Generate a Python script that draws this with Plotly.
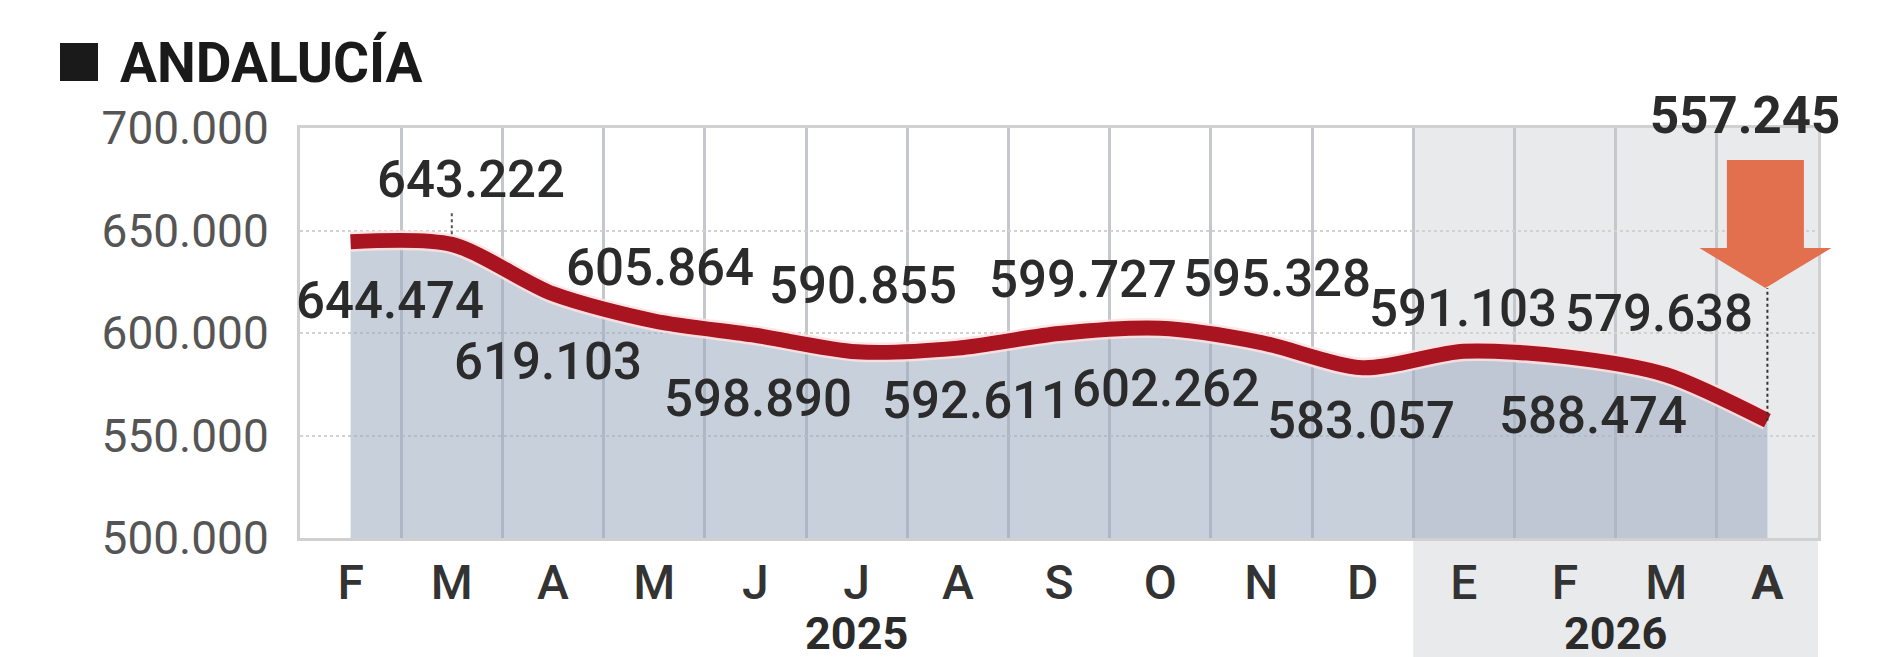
import plotly.graph_objects as go

# ---------------- data ----------------
months = ["F", "M", "A", "M", "J", "J", "A", "S", "O", "N", "D", "E", "F", "M", "A"]
years = ["2025"] * 11 + ["2026"] * 4
values = [644474, 643222, 619103, 605864, 598890, 590855, 592611, 599727,
          602262, 595328, 583057, 591103, 588474, 579638, 557245]
labels = ["644.474", "643.222", "619.103", "605.864", "598.890", "590.855", "592.611",
          "599.727", "602.262", "595.328", "583.057", "591.103", "588.474", "579.638",
          "557.245"]
y_ticks = [500000, 550000, 600000, 650000, 700000]
title = "ANDALUCÍA"

# ---------------- geometry / style ----------------
W, H = 1891, 657
ML, MR, MT, MB = 292, 81, 120, 127
PW, PH = W - ML - MR, H - MT - MB
YMIN, YMAX = 500000, 700000
XMIN, XMAX = -0.5, len(months) - 0.5


def px_x(px):
    return (px - ML) / PW


def px_y(py):
    return (H - MB - py) / PH


def x_px(xv):
    return ML + (xv - XMIN) / (XMAX - XMIN) * PW


# label offsets in pixels (dx right, dy down) relative to each point
label_dx = [39, 19, -5, 6, 3, 6, 18, 24, 6, 16, -2, -1, 28, -7]
label_dy = [59, -65, 68, -53, 63, -66, 52, -54, 60, -64, 53, -43, 59, -61]

FONT = "Roboto"
RED = "#a8141f"
ORANGE = "#e2704f"
idx = list(range(len(months)))

fig = go.Figure()

# area fill
fig.add_trace(go.Scatter(
    x=idx, y=values, mode="lines",
    line=dict(width=0, shape="spline", smoothing=0.8, color="rgba(0,0,0,0)"),
    fill="tozeroy", fillcolor="rgba(155,170,192,0.55)",
    hoverinfo="skip", showlegend=False))
# halo
fig.add_trace(go.Scatter(
    x=idx, y=values, mode="lines",
    line=dict(width=20, shape="spline", smoothing=0.8, color="rgba(255,225,225,0.85)"),
    hoverinfo="skip", showlegend=False))
# main line
fig.add_trace(go.Scatter(
    x=idx, y=values, mode="lines",
    line=dict(width=15, shape="spline", smoothing=0.8, color=RED),
    showlegend=False))

shapes = []
# 2026 shaded band (from start of 2026 to end, down to the bottom of the image)
first26 = years.index("2026")
shapes.append(dict(type="rect", xref="x", yref="paper",
                   x0=first26 - 0.5, x1=XMAX, y0=px_y(H), y1=1,
                   fillcolor="#e8eaec", line=dict(width=0), layer="below"))

# leader dotted line at second point
shapes.append(dict(type="line", xref="x", yref="y", x0=1, x1=1,
                   y0=values[1] + 5000, y1=values[1] + 16000,
                   line=dict(color="#555", width=2, dash="dot")))

# arrow over last point
last = len(values) - 1
cx = x_px(last) - 2
shaft_hw, head_hw = 38.5, 66
top_y, base_y, tip_y = 152, 240, 280
pts = [(cx - shaft_hw, top_y), (cx + shaft_hw, top_y), (cx + shaft_hw, base_y),
       (cx + head_hw, base_y), (cx, tip_y), (cx - head_hw, base_y),
       (cx - shaft_hw, base_y)]
path = "M " + " L ".join(f"{px_x(a):.5f},{px_y(b):.5f}" for a, b in pts) + " Z"
shapes.append(dict(type="path", xref="paper", yref="paper", path=path,
                   fillcolor=ORANGE, line=dict(width=0), layer="above"))
# dotted line from arrow tip to last point
tip_val = YMIN + (H - MB - tip_y) / PH * (YMAX - YMIN)
shapes.append(dict(type="line", xref="x", yref="y", x0=last, x1=last,
                   y0=values[last], y1=tip_val,
                   line=dict(color="#333", width=2, dash="dot")))

# title square
shapes.append(dict(type="rect", xref="paper", yref="paper",
                   x0=px_x(52), x1=px_x(90), y0=px_y(73), y1=px_y(35),
                   fillcolor="#1a1a1a", line=dict(width=0)))

annotations = []
for i in range(len(values) - 1):
    annotations.append(dict(x=i, y=values[i], xref="x", yref="y", text=labels[i],
                            showarrow=False, xshift=label_dx[i], yshift=-label_dy[i],
                            xanchor="center", yanchor="middle",
                            font=dict(family=FONT, size=51, color="#2b2b2b", weight=500)))
# last value, bold, above arrow
annotations.append(dict(x=last, y=px_y(108), xref="x", yref="paper", text=f"<b>{labels[last]}</b>",
                        showarrow=False, xshift=-22, xanchor="center", yanchor="middle",
                        font=dict(family=FONT, size=51, color="#2b2b2b")))
# year labels
for yr in ["2025", "2026"]:
    ii = [k for k, y in enumerate(years) if y == yr]
    center = (ii[0] - 0.5 + ii[-1] + 0.5) / 2
    annotations.append(dict(x=center, y=px_y(625), xref="x", yref="paper",
                            xanchor="center", yanchor="middle",
                            text=f"<b>{yr}</b>", showarrow=False,
                            font=dict(family=FONT, size=45, color="#2b2b2b")))
# title
annotations.append(dict(x=px_x(110), y=px_y(55), xref="paper", yref="paper",
                        xanchor="left", yanchor="middle", text=f"<b>{title}</b>",
                        showarrow=False, font=dict(family=FONT, size=55, color="#1a1a1a")))

ticktext = months[:-1] + [f"<b>{months[-1]}</b>"]

fig.update_layout(
    width=W, height=H, autosize=False,
    margin=dict(l=ML, r=MR, t=MT, b=MB, pad=0),
    paper_bgcolor="white", plot_bgcolor="rgba(0,0,0,0)",
    separators=",.",
    shapes=shapes, annotations=annotations,
    xaxis=dict(range=[XMIN, XMAX], tickmode="array", tickvals=idx, ticktext=ticktext,
               showgrid=False, zeroline=False,
               minor=dict(tickmode="array", tickvals=[k + 0.5 for k in idx[:-1]],
                          showgrid=True, gridcolor="#c4c8cc", gridwidth=2.5, ticks=""),
               showline=True, mirror=True, linecolor="#d0d0d0", linewidth=3,
               ticks="", ticklen=0,
               tickfont=dict(family=FONT, size=48, color="#333", weight=500)),
    yaxis=dict(range=[YMIN, YMAX], tickmode="array", tickvals=y_ticks,
               tickformat=",.0f", showgrid=True, gridcolor="#d2d2d2", gridwidth=2,
               griddash="dot", zeroline=False,
               showline=True, mirror=True, linecolor="#d0d0d0", linewidth=3,
               ticks="outside", ticklen=19, tickcolor="rgba(0,0,0,0)",
               tickfont=dict(family=FONT, size=46, color="#555")),
)

fig.write_html("out.html")
